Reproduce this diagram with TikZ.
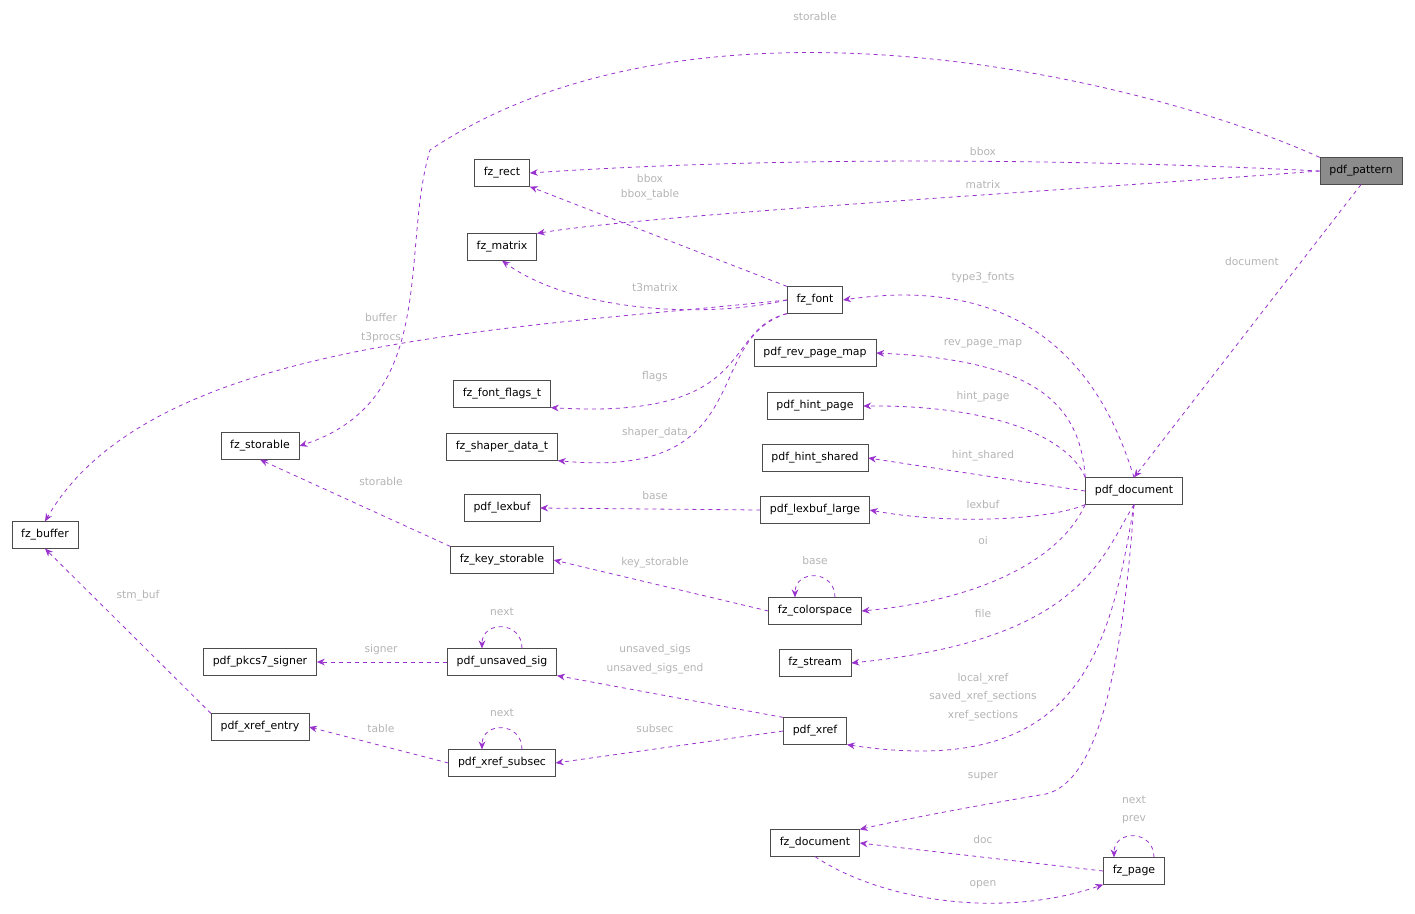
\documentclass[tikz,border=0pt]{standalone}
\usepackage{fontspec}
\setmainfont{DejaVu Sans}
\usetikzlibrary{arrows.meta}
\definecolor{edgecol}{HTML}{9A32CD}
\definecolor{lblcol}{HTML}{B4B4B4}
\begin{document}
\begin{tikzpicture}[x=0.75pt,y=-0.75pt,
    cls/.style={rectangle, draw=black!70, fill=white, font=\fontsize{8.2}{9}\selectfont,
      inner xsep=7pt, minimum height=20pt},
    cur/.style={cls, fill=black!45},
    edge/.style={draw=edgecol, dashed, semithick, -{Stealth[length=6pt,width=5pt]}},
    lbl/.style={text=lblcol, font=\fontsize{8}{10}\selectfont, align=center, inner sep=0pt}]
  \useasboundingbox (0,0) rectangle (1415,914);

  % classes
  \node[cur] (pattern) at (1361,171) {pdf\_pattern};
  \node[cls] (rect) at (502,173) {fz\_rect};
  \node[cls] (matrix) at (502,247) {fz\_matrix};
  \node[cls] (font) at (815,300) {fz\_font};
  \node[cls] (revmap) at (815,353) {pdf\_rev\_page\_map};
  \node[cls] (hintpage) at (815,406) {pdf\_hint\_page};
  \node[cls] (hintshared) at (815,458) {pdf\_hint\_shared};
  \node[cls] (lexlarge) at (815,510) {pdf\_lexbuf\_large};
  \node[cls] (cspace) at (815,611) {fz\_colorspace};
  \node[cls] (stream) at (815,663) {fz\_stream};
  \node[cls] (xref) at (815,731) {pdf\_xref};
  \node[cls] (fzdoc) at (815,843) {fz\_document};
  \node[cls] (page) at (1134,871) {fz\_page};
  \node[cls] (pdfdoc) at (1134,491) {pdf\_document};
  \node[cls] (flags) at (502,394) {fz\_font\_flags\_t};
  \node[cls] (shaper) at (502,447) {fz\_shaper\_data\_t};
  \node[cls] (lexbuf) at (502,508) {pdf\_lexbuf};
  \node[cls] (keystor) at (502,560) {fz\_key\_storable};
  \node[cls] (unsaved) at (502,662) {pdf\_unsaved\_sig};
  \node[cls] (subsec) at (502,763) {pdf\_xref\_subsec};
  \node[cls] (storable) at (260,446) {fz\_storable};
  \node[cls] (signer) at (260,662) {pdf\_pkcs7\_signer};
  \node[cls] (entry) at (260,727) {pdf\_xref\_entry};
  \node[cls] (buffer) at (45,535) {fz\_buffer};

  % members of pdf_pattern
  \draw[edge] (pattern.north west) .. controls (1150,80) and (700,-30) .. (430,150)
    .. controls (400,250) and (440,400) .. (storable.east);
  \draw[edge] (pattern.west) .. controls (1100,160) and (800,155) .. (rect.east);
  \draw[edge] (pattern.west) .. controls (1000,195) and (650,215) .. (matrix.north east);
  \draw[edge] (pattern.south) -- (pdfdoc.north);
  \node[lbl] (l1) at (815,17) {storable};
  \node[lbl] (l2) at (983,152) {bbox};
  \node[lbl] (l3) at (983,185) {matrix};
  \node[lbl] (l4) at (1252,262) {document};

  % members of fz_font
  \draw[edge] (font.north west) -- (rect.south east);
  \draw[edge] (font.west) .. controls (700,320) and (570,310) .. (matrix.south);
  \draw[edge] (font.west) .. controls (500,330) and (150,340) .. (buffer.north);
  \draw[edge] (font.south west) .. controls (720,330) and (760,420) .. (flags.south east);
  \draw[edge] (font.south west) .. controls (700,340) and (760,480) .. (shaper.south east);
  \node[lbl] (l5) at (650,187) {bbox\\[1pt]bbox\_table};
  \node[lbl] (l6) at (655,288) {t3matrix};
  \node[lbl] (l7) at (381,328) {buffer\\[4pt]t3procs};
  \node[lbl] (l8) at (655,377) {flags};
  \node[lbl] (l9) at (655,433) {shaper\_data};

  % members of pdf_document
  \draw[edge] (pdfdoc.north) .. controls (1110,400) and (1050,270) .. (font.east);
  \draw[edge] (pdfdoc.north west) .. controls (1080,400) and (1030,360) .. (revmap.east);
  \draw[edge] (pdfdoc.north west) .. controls (1070,440) and (1000,405) .. (hintpage.east);
  \draw[edge] (pdfdoc.west) -- (hintshared.east);
  \draw[edge] (pdfdoc.south west) .. controls (1050,520) and (950,525) .. (lexlarge.east);
  \draw[edge] (pdfdoc.south west) .. controls (1060,560) and (980,600) .. (cspace.east);
  \draw[edge] (pdfdoc.south) .. controls (1100,560) and (1080,640) .. (stream.east);
  \draw[edge] (pdfdoc.south) .. controls (1110,650) and (1080,780) .. (xref.south east);
  \draw[edge] (pdfdoc.south) .. controls (1120,700) and (1090,790) .. (1040,795)
    .. controls (980,805) and (900,820) .. (fzdoc.north east);
  \node[lbl] (l10) at (983,278) {type3\_fonts};
  \node[lbl] (l11) at (983,344) {rev\_page\_map};
  \node[lbl] (l12) at (983,397) {hint\_page};
  \node[lbl] (l13) at (983,456) {hint\_shared};
  \node[lbl] (l14) at (983,505) {lexbuf};
  \node[lbl] (l15) at (983,541) {oi};
  \node[lbl] (l16) at (983,614) {file};
  \node[lbl] (l17) at (983,697) {local\_xref\\[4pt]saved\_xref\_sections\\[4pt]xref\_sections};
  \node[lbl] (l18) at (983,777) {super};

  % other members
  \draw[edge] (lexlarge.west) -- (lexbuf.east);
  \draw[edge] ([xshift=15pt]cspace.north) to[out=90,in=90,looseness=1.8] ([xshift=-15pt]cspace.north);
  \draw[edge] (cspace.west) -- (keystor.east);
  \draw[edge] (keystor.north west) -- (storable.south);
  \draw[edge] (xref.north west) -- (unsaved.south east);
  \draw[edge] (xref.west) -- (subsec.east);
  \draw[edge] ([xshift=15pt]unsaved.north) to[out=90,in=90,looseness=1.8] ([xshift=-15pt]unsaved.north);
  \draw[edge] (unsaved.west) -- (signer.east);
  \draw[edge] ([xshift=15pt]subsec.north) to[out=90,in=90,looseness=1.8] ([xshift=-15pt]subsec.north);
  \draw[edge] (subsec.west) -- (entry.east);
  \draw[edge] (entry.north west) -- (buffer.south);
  \draw[edge] (page.west) -- (fzdoc.east);
  \draw[edge] (fzdoc.south) .. controls (880,900) and (1000,920) .. (page.south west);
  \draw[edge] ([xshift=15pt]page.north) to[out=90,in=90,looseness=1.8] ([xshift=-15pt]page.north);
  \node[lbl] (l19) at (815,561) {base};
  \node[lbl] (l20) at (655,496) {base};
  \node[lbl] (l21) at (655,563) {key\_storable};
  \node[lbl] (l22) at (381,482) {storable};
  \node[lbl] (l23) at (655,659) {unsaved\_sigs\\[4pt]unsaved\_sigs\_end};
  \node[lbl] (l24) at (655,729) {subsec};
  \node[lbl] (l25) at (502,612) {next};
  \node[lbl] (l26) at (381,650) {signer};
  \node[lbl] (l27) at (502,713) {next};
  \node[lbl] (l28) at (381,729) {table};
  \node[lbl] (l29) at (138,596) {stm\_buf};
  \node[lbl] (l30) at (983,840) {doc};
  \node[lbl] (l31) at (983,885) {open};
  \node[lbl] (l32) at (1134,810) {next\\[4pt]prev};
\end{tikzpicture}
\end{document}
